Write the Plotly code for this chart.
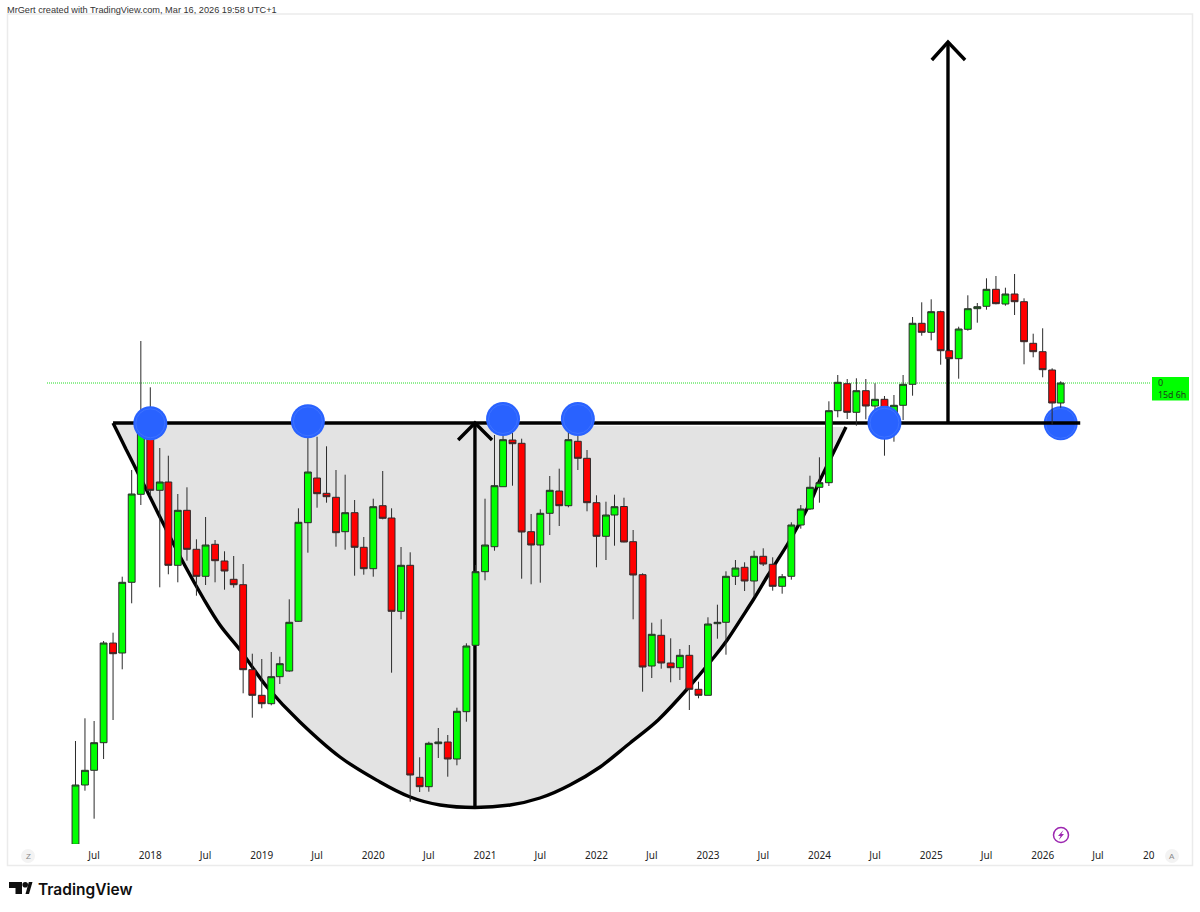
from datetime import date, timedelta
import plotly.graph_objects as go

# ---------- data (arbitrary price units; axis is unlabelled in the reference) ----------
first_month = (2017, 5)
opens = [55.7,115,129.7,157.3,257,247,317.7,405.7,472,409.7,418,334.7,389.7,350.7,323.7,355.7,339,320.7,315.3,230.3,
         204.7,196.3,223.3,229,278.7,377.3,422,406.7,402.7,368.3,387.3,352.7,331.3,394.3,382,288.7,334.7,122.7,113.3,156.3,
         158,141,188.3,254.7,328.3,353.3,413.3,460,456.7,368.3,355,386.7,409,394.3,458.7,441.7,397.3,363.7,385,393.5,
         358.3,325.3,234,264.7,237,232.3,244.7,210.7,204.7,276.3,277.7,323.7,332.7,319,343.7,335.7,313.7,323.7,375,391,
         412.7,417.3,489.3,516.3,487.7,509.3,494,500.7,485,494.7,515.7,576.7,567.7,588.3,549.3,541.3,570.7,591.3,593.7,610.7,
         596,606,598.3,556.7,548.3,530,497]
highs = [159,181.7,179,259,267.3,323.3,430,559,512.7,452,444.3,406,412.7,360.7,383,360,348.7,344,336,246.3,
         241,248,243.3,300.7,391.7,495,463.3,453.7,430,425.3,400,363,401.3,429,391.7,353,347.7,142.7,158.3,172,
         165,192.3,256.7,335,401.3,465,495,467,461.3,386,390.7,424,431.3,475,470,450,404.7,398.3,405.3,402.3,
         370,326.7,277.3,280.7,261.7,251,255,218.3,282.7,295.3,328.7,340,337.7,349.3,351.7,342.7,326,377.7,395,424.3,
         442.7,498.7,525,521,521.7,521,516.7,504,505,525,583,597.7,600.7,589.3,551,573.3,604.7,597,621.7,624,
         612.3,626,601.7,566.3,571.7,531.7,518.7]
lows = [55.7,109.3,81.3,141,180,230.7,296.7,395,404,312.7,325.7,317.7,339.3,304.3,315,317.7,310.3,312.3,206.7,182.3,
        191.7,194.7,216,228.3,278.3,347.3,392.3,397.3,353.3,350.3,324.3,325.3,323.3,380.7,227.3,280.7,98.3,108,108.3,142,
        123.3,134.7,178.3,254,319.7,349.3,413.3,414.3,321.3,315.7,317.3,365,374,392.7,430,388.7,332.7,340,354.3,357.7,
        280.7,208.3,222,231.3,217.7,220,190,201.7,204.7,261.3,245.3,315,309,303.3,334,309.3,306.3,320.3,371.3,390,
        397.3,414,482.7,481,474.3,480.7,490,444.3,458.3,480,504.3,564.3,559.7,535.3,530,521.3,569.3,577.3,590.3,595.7,
        594.3,585,535.7,542.7,522.7,475.3,492.3]
closes = [115,129.7,157.3,257,246.3,317.7,406,472,409.7,418,334.7,389.7,350.7,323.7,355,339.3,329,315.3,230.3,204.7,
          196.3,223.3,236.3,277.7,377.7,428,406.3,403.3,367.3,387.3,352.7,331.3,393.3,381.7,288.7,334.7,125,113.3,156.7,158,
          141,188.7,254,328.3,355,414.3,460.3,456.3,368,355,386.7,409.7,394.3,460.3,441.7,397.3,363.7,385,393.3,358,
          325,233,265.7,237,232.3,244.7,210.7,204.7,276,277.7,323.7,332,319,343.7,336,313.7,323.3,375,391,412.7,
          417.3,489.3,517.7,487.7,509.3,494,500.7,490,494.7,515.7,576.7,567.7,588.3,549.3,541.3,571,591.3,593.3,610.7,596.3,
          606,598.3,558.3,548.3,530.3,497,517]

tick_dates = ["2017-07-01","2018-01-01","2018-07-01","2019-01-01","2019-07-01","2020-01-01","2020-07-01","2021-01-01",
              "2021-07-01","2022-01-01","2022-07-01","2023-01-01","2023-07-01","2024-01-01","2024-07-01","2025-01-01",
              "2025-07-01","2026-01-01","2026-07-01"]
tick_labels = ["Jul","2018","Jul","2019","Jul","2020","Jul","2021","Jul","2022","Jul","2023","Jul","2024","Jul","2025",
               "Jul","2026","Jul"]

# pattern drawing, horizontal position in steps from the first candle
cup_pos = [4.06,5.46,6.97,8.48,9.99,11.83,13.76,15.59,17.75,20.66,24.21,28.52,32.83,36.07,39.3,43.07,46.84,50.07,53.31,
           56.54,59.77,62.8,66.03,68.4,70.23,73.03,74.65,77.02,79.17,80.25,83.05]
cup_val = [477,451,423,395,367,334,302,275,250,213,178,143,118,103,95,92.5,95,102,115,133,157,180,212,238,260,300,325,
           360,397,420,473]
neckline_pos = [4.06, 108.3]
neckline_val = 477
circle_val = [476.7, 478.7, 481, 481, 477.3]
circle_dates = ["2018-01-01","2019-06-01","2021-03-01","2021-11-01","2024-08-01"]
last_circle_date = "2026-03-01"
arrow1 = dict(pos=43.07, left=41.24, right=44.9, bottom=93, tip=477, wing=460)
arrow2 = dict(pos=94.04, left=92.3, right=95.87, bottom=477, tip=858, wing=840)

BLACK = "#000000"
START = date(*first_month, 1)
DAYS_PER_STEP = 30.386

def pos_date(p):
    return (START + timedelta(days=p * DAYS_PER_STEP)).isoformat()

n = len(opens)
months = [date(first_month[0] + (first_month[1] - 1 + i) // 12, (first_month[1] - 1 + i) % 12 + 1, 1).isoformat()
          for i in range(n)]

# page pixel -> paper fraction, for the page furniture
PL, PR, PT, PB = 8, 1192, 14, 844
def px(x): return (x - PL) / (PR - PL)
def py(y): return (PB - y) / (PB - PT)

fig = go.Figure()
fig.add_trace(go.Candlestick(
    x=months, open=opens, high=highs, low=lows, close=closes,
    increasing=dict(fillcolor="#00ff00", line=dict(color="#2b2b2b", width=1)),
    decreasing=dict(fillcolor="#ff0000", line=dict(color="#2b2b2b", width=1)),
    whiskerwidth=0, hoverinfo="skip"))
fig.add_trace(go.Scatter(
    x=circle_dates, y=circle_val, mode="markers",
    marker=dict(size=34, color="#2962ff", line=dict(width=0)), hoverinfo="skip"))
fig.add_trace(go.Scatter(
    x=circle_dates, y=circle_val, mode="markers",
    marker=dict(size=29, color="rgba(0,0,0,0)", line=dict(width=1, color="#3d72ff")), hoverinfo="skip"))

# smooth cup outline: cubic segments through the read points
def smooth_path(ps, vs):
    parts = [f"M {pos_date(ps[0])},{vs[0]}"]
    m = len(ps)
    for i in range(m - 1):
        a, b = max(i - 1, 0), min(i + 2, m - 1)
        c1x = ps[i] + (ps[i + 1] - ps[a]) / 6
        c1y = vs[i] + (vs[i + 1] - vs[a]) / 6
        c2x = ps[i + 1] - (ps[b] - ps[i]) / 6
        c2y = vs[i + 1] - (vs[b] - vs[i]) / 6
        parts.append(f"C {pos_date(c1x)},{c1y:.2f} {pos_date(c2x)},{c2y:.2f} {pos_date(ps[i+1])},{vs[i+1]}")
    return " ".join(parts)

cup_open = smooth_path(cup_pos, cup_val)

def line(x0, y0, x1, y1, width=3.4, color=BLACK, dash=None, layer="below"):
    return dict(type="line", xref="x", yref="y", x0=x0, y0=y0, x1=x1, y1=y1, layer=layer,
                line=dict(color=color, width=width, dash=dash))

shapes = [
    # chart frame
    dict(type="rect", xref="paper", yref="paper", x0=px(7.5), x1=px(1192.5), y0=py(865.5), y1=py(14),
         line=dict(color="#ebebeb", width=1.5), fillcolor="white", layer="below"),
    # cup fill and outline
    dict(type="path", xref="x", yref="y", path=cup_open + " Z", fillcolor="#e3e3e3", line=dict(width=0), layer="below"),
    dict(type="path", xref="x", yref="y", path=cup_open, line=dict(color=BLACK, width=3.4), layer="below"),
    # last-price dotted line
    dict(type="line", xref="paper", yref="y", x0=px(47), x1=px(1151), y0=closes[-1], y1=closes[-1], layer="below",
         line=dict(color="#22dd22", width=1, dash="1px,1px")),
]
# last circle sits behind candles and neckline
shapes.append(dict(type="circle", xref="x", yref="y", xsizemode="pixel", ysizemode="pixel",
                   xanchor=last_circle_date, yanchor=neckline_val - 0.3, x0=-17, x1=17, y0=-17, y1=17,
                   fillcolor="#2962ff", line=dict(width=0), layer="below"))
shapes.append(dict(type="circle", xref="x", yref="y", xsizemode="pixel", ysizemode="pixel",
                   xanchor=last_circle_date, yanchor=neckline_val - 0.3, x0=-15, x1=15, y0=-15, y1=15,
                   fillcolor="rgba(0,0,0,0)", line=dict(width=1, color="#3d72ff"), layer="below"))
shapes.append(line(pos_date(neckline_pos[0]), neckline_val, pos_date(neckline_pos[1]), neckline_val))
for a in (arrow1, arrow2):
    shapes.append(line(pos_date(a["pos"]), a["bottom"], pos_date(a["pos"]), a["tip"]))
    shapes.append(dict(type="path", xref="x", yref="y", layer="below", line=dict(color=BLACK, width=3.4),
                       path=f"M {pos_date(a['left'])},{a['wing']} L {pos_date(a['pos'])},{a['tip']} L {pos_date(a['right'])},{a['wing']}"))

def paper_circle(cx, cy, r, fill, line_style):
    return dict(type="circle", xref="paper", yref="paper", x0=px(cx - r), x1=px(cx + r), y0=py(cy + r), y1=py(cy - r),
                fillcolor=fill, line=line_style, layer="above")

shapes += [
    paper_circle(28, 856, 7, "#f3f3f3", dict(width=0)),
    paper_circle(1172, 856, 7, "#f3f3f3", dict(width=0)),
    paper_circle(1061, 835, 7.5, "rgba(0,0,0,0)", dict(color="#9c27b0", width=1.5)),
    # price label box
    dict(type="rect", xref="paper", yref="paper", x0=px(1152), x1=px(1189), y0=py(400.5), y1=py(377),
         fillcolor="#00ff00", line=dict(width=0), layer="above"),
]

def pp(points):
    return "M " + " L ".join(f"{px(x)},{py(y)}" for x, y in points) + " Z"

paper_black = dict(type="path", xref="paper", yref="paper", fillcolor="#0f0f0f", line=dict(width=0), layer="above")
shapes += [
    dict(paper_black, path=pp([(9, 882), (22, 882), (22, 894), (15.5, 894), (15.5, 888), (9, 888)])),
    paper_circle(25.2, 884.8, 2.8, "#0f0f0f", dict(width=0)),
    dict(paper_black, path=pp([(25.5, 894), (28.8, 882), (32.5, 882), (29, 894)])),
    dict(type="path", xref="paper", yref="paper", fillcolor="#9c27b0", line=dict(width=0), layer="above",
         path=pp([(1063.5, 830), (1058, 836), (1060.6, 836), (1058.8, 840), (1064, 834), (1061.4, 834)])),
]

def note(x, y, text, size, color="#333333", family="Liberation Sans", anchor="left", **kw):
    shift = -2 if anchor == "left" else 0
    return dict(xref="paper", yref="paper", x=px(x), y=py(y), xshift=shift, text=text, showarrow=False, xanchor=anchor,
                yanchor="middle", font=dict(size=size, color=color, family=family, **kw))

annotations = [
    note(7, 10, "MrGert created with TradingView.com, Mar 16, 2026 19:58 UTC+1", 9.2),
    note(38, 889, "TradingView", 15.5, color="#0f0f0f", family="Inter", weight=600),
    note(28, 856.5, "Z", 8, color="#888888", anchor="center"),
    note(1172, 856.5, "A", 8, color="#888888", anchor="center"),
    note(1143, 855, "20", 10, color="#222222", family="Noto Sans"),
    note(1158, 383, "0", 9, color="#1d3d1d", family="Noto Sans"),
    note(1158, 394.5, "15d 6h", 8.8, color="#1d3d1d", family="Noto Sans"),
]

fig.update_layout(
    width=1200, height=912, showlegend=False, paper_bgcolor="white", plot_bgcolor="rgba(0,0,0,0)",
    margin=dict(l=PL, r=1200 - PR, t=PT, b=912 - PB, pad=0), boxgap=0.2, boxgroupgap=0,
    shapes=shapes, annotations=annotations, hovermode=False,
    xaxis=dict(type="date", range=[pos_date((PL - 75.3) / 9.28), pos_date((PR - 75.3) / 9.28)],
               rangeslider=dict(visible=False), showgrid=False, zeroline=False, showline=False,
               tickmode="array", tickvals=tick_dates, ticktext=tick_labels, ticks="", ticklen=0,
               ticklabelstandoff=4,
               tickfont=dict(family="Noto Sans", size=10, color="#222222"), automargin=False),
    yaxis=dict(range=[900 - PB, 900 - PT], showgrid=False, zeroline=False, showline=False, showticklabels=False,
               ticks="", automargin=False),
)
fig.write_html("out.html", config=dict(displayModeBar=False),
               post_script="document.body.style.margin='0';")
